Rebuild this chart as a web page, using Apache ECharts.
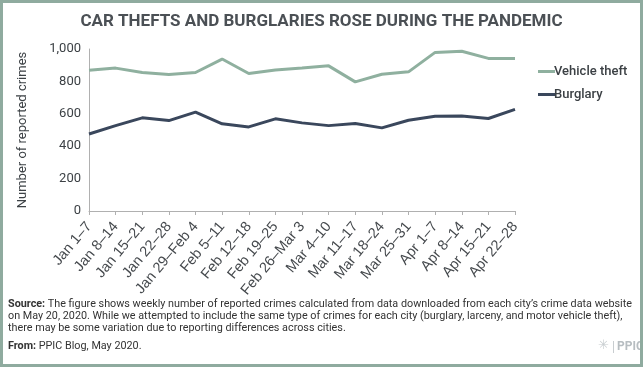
<!DOCTYPE html>
<html>
<head>
<meta charset="utf-8">
<script src="https://cdn.jsdelivr.net/npm/echarts@6/dist/echarts.min.js"></script>
<style>html,body{margin:0;padding:0;background:#fff}#c{width:643px;height:368px}</style>
</head>
<body>
<div id="c"></div>
<script>
var categories = ['Jan 1\u20137','Jan 8\u201314','Jan 15\u201321','Jan 22\u201328','Jan 29\u2013Feb 4','Feb 5\u201311','Feb 12\u201318','Feb 19\u201325','Feb 26\u2013Mar 3','Mar 4\u201310','Mar 11\u201317','Mar 18\u201324','Mar 25\u201331','Apr 1\u20137','Apr 8\u201314','Apr 15\u201321','Apr 22\u201328'];
var vehicleTheft = [869, 882, 855, 843, 855, 938, 849, 871, 882, 896, 797, 844, 859, 979, 986, 942, 942];
var burglary = [475, 527, 575, 558, 610, 538, 519, 569, 544, 527, 540, 513, 560, 585, 587, 571, 627];
var yTicks = [0, 200, 400, 600, 800, 1000];

var chart = echarts.init(document.getElementById('c'), null, {renderer: 'canvas'});
var txt = '#3c4145';
var font = 'Roboto';
var footFont = 10.8;
chart.setOption({
  animation: false,
  backgroundColor: '#fff',
  title: {
    text: 'CAR THEFTS AND BURGLARIES ROSE DURING THE PANDEMIC',
    left: 'center', top: 8,
    textStyle: {fontFamily: font, fontSize: 17, fontWeight: 'bold', color: '#4b5055'}
  },
  legend: {
    orient: 'vertical', left: 533, top: 60, itemGap: 10,
    itemWidth: 17, itemHeight: 3, icon: 'rect',
    textStyle: {fontFamily: font, fontSize: 13, fontWeight: 500, color: txt, padding: [0,0,0,-6]},
    data: ['Vehicle theft', 'Burglary']
  },
  grid: {left: 89, right: 128, top: 49, bottom: 157, outerBoundsMode: 'none'},
  xAxis: {
    type: 'category', data: categories, boundaryGap: false,
    axisLine: {lineStyle: {color: '#b0b0b0', width: 1}},
    axisTick: {show: true, length: 4, lineStyle: {color: '#b0b0b0'}, alignWithLabel: true},
    axisLabel: {rotate: 50, fontFamily: 'Liberation Sans', fontSize: 14.5, color: '#45494d', margin: 13, interval: 0}
  },
  yAxis: {
    type: 'value', min: 0, max: 1000, interval: 200,
    name: 'Number of reported crimes', nameLocation: 'middle', nameGap: 60, nameRotate: 90,
    nameTextStyle: {fontFamily: font, fontSize: 13, color: txt},
    axisLine: {show: true, lineStyle: {color: '#b0b0b0', width: 1}},
    axisTick: {show: false},
    splitLine: {show: false},
    axisLabel: {fontFamily: font, fontSize: 13, color: txt, margin: 8,
      formatter: function (v) { return yTicks.indexOf(v) >= 0 ? v.toLocaleString('en-US') : ''; }}
  },
  series: [
    {name: 'Vehicle theft', type: 'line', data: vehicleTheft, symbol: 'none',
     lineStyle: {width: 3, color: '#8fb09f'}, itemStyle: {color: '#8fb09f'}},
    {name: 'Burglary', type: 'line', data: burglary, symbol: 'none',
     lineStyle: {width: 3, color: '#3a475c'}, itemStyle: {color: '#3a475c'}}
  ],
  graphic: [
    {type: 'rect', shape: {x: 1.5, y: 1.5, width: 640, height: 364}, style: {fill: 'none', stroke: '#8fab9f', lineWidth: 3}, z: 100},
    {type: 'text', left: 8, top: 298, style: {
      text: '{b|Source:} The figure shows weekly number of reported crimes calculated from data downloaded from each city\u2019s crime data website\non May 20, 2020. While we attempted to include the same type of crimes for each city (burglary, larceny, and motor vehicle theft),\nthere may be some variation due to reporting differences across cities.',
      fontFamily: font, fontSize: footFont, lineHeight: 12.3, fill: '#333',
      rich: {b: {fontFamily: font, fontSize: footFont, fontWeight: 'bold', fill: '#333'}}
    }},
    {type: 'text', left: 8, top: 341, style: {
      text: '{b|From:} PPIC Blog, May 2020.', fontFamily: font, fontSize: footFont, fill: '#333',
      rich: {b: {fontFamily: font, fontSize: footFont, fontWeight: 'bold', fill: '#333'}}
    }},
    {type: 'text', left: 598, top: 339, style: {text: '\u2733', fontFamily: 'DejaVu Sans', fontSize: 13, fill: '#c8cdd0'}},
    {type: 'rect', shape: {x: 613, y: 341, width: 1, height: 12}, style: {fill: '#c8cdd0'}},
    {type: 'text', left: 617, top: 341, style: {text: 'PPIC', fontFamily: font, fontSize: 12, fontWeight: 'bold', fill: '#b7bdc1'}}
  ]
});
</script>
</body>
</html>
